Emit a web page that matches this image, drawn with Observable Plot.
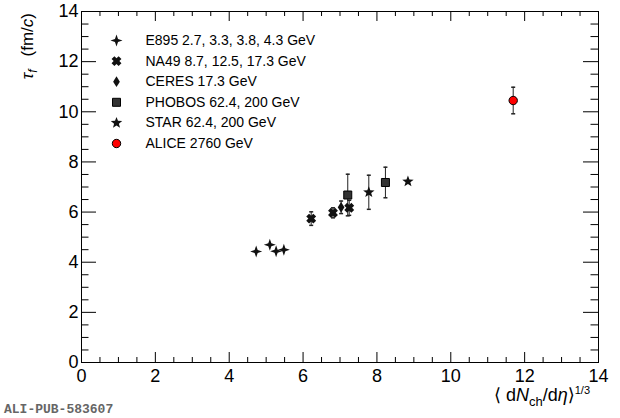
<!DOCTYPE html>
<html><head><meta charset="utf-8">
<script src="https://cdn.jsdelivr.net/npm/d3@7"></script>
<script src="https://cdn.jsdelivr.net/npm/@observablehq/plot@0.6"></script>
<style>
html,body{margin:0;padding:0;background:#fff;}
#chart{width:620px;height:418px;}
</style></head><body><div id="chart"></div>
<script>
// ---- data ----
const e895X = [4.73, 5.10, 5.27, 5.48];
const e895Y = [4.43, 4.70, 4.44, 4.50];
const e895Err = [0, 0, 0, 0];

const na49X = [6.22, 6.81, 7.25];
const na49Y = [5.74, 5.97, 6.17];
const na49Err = [0.27, 0.20, 0.30];

const ceresX = [7.03];
const ceresY = [6.19];
const ceresErr = [0.25];

const phobosX = [7.21, 8.23];
const phobosY = [6.68, 7.18];
const phobosErr = [0.83, 0.61];

const starX = [7.78, 8.84];
const starY = [6.79, 7.22];
const starErr = [0.68, 0];

const aliceX = [11.69];
const aliceY = [10.45];
const aliceErr = [0.53];

const seriesNames = ["E895", "NA49", "CERES", "PHOBOS", "STAR", "ALICE"];
const legendLabels = [
  "E895 2.7, 3.3, 3.8, 4.3 GeV",
  "NA49 8.7, 12.5, 17.3 GeV",
  "CERES 17.3 GeV",
  "PHOBOS 62.4, 200 GeV",
  "STAR 62.4, 200 GeV",
  "ALICE 2760 GeV"
];
const xMajor = [0, 2, 4, 6, 8, 10, 12, 14];
const yMajor = [0, 2, 4, 6, 8, 10, 12, 14];
const xMinor = d3.range(0, 14.01, 0.5).filter(v => v % 2 !== 0);
const yMinor = d3.range(0, 14.01, 0.5).filter(v => v % 2 !== 0);

// ---- custom marker shapes ----
const rad = s => Math.sqrt(s / Math.PI);
const poly = (ctx, pts) => { ctx.moveTo(pts[0][0], pts[0][1]); for (let i = 1; i < pts.length; i++) ctx.lineTo(pts[i][0], pts[i][1]); ctx.closePath(); };
const star4 = { draw(ctx, size) { const R = rad(size), r = R * 0.36; const p = [];
  for (let k = 0; k < 8; k++) { const a = -Math.PI / 2 + k * Math.PI / 4, q = k % 2 ? r : R; p.push([q * Math.cos(a), q * Math.sin(a)]); } poly(ctx, p); } };
const crossX = { draw(ctx, size) { const R = rad(size), w = R * 0.4; const base = [[w,R],[w,w],[R,w],[R,-w],[w,-w],[w,-R],[-w,-R],[-w,-w],[-R,-w],[-R,w],[-w,w],[-w,R]];
  const c = Math.SQRT1_2; poly(ctx, base.map(([x, y]) => [c * (x - y), c * (x + y)])); } };
const diamond = { draw(ctx, size) { const R = rad(size); poly(ctx, [[0,-R],[0.62*R,0],[0,R],[-0.62*R,0]]); } };
const square = { draw(ctx, size) { const R = rad(size); poly(ctx, [[-R,-R],[R,-R],[R,R],[-R,R]]); } };
const star5 = { draw(ctx, size) { const R = rad(size), r = R * 0.42; const p = [];
  for (let k = 0; k < 10; k++) { const a = -Math.PI / 2 + k * Math.PI / 5, q = k % 2 ? r : R; p.push([q * Math.cos(a), q * Math.sin(a)]); } poly(ctx, p); } };
const cap = { draw(ctx, size) { const R = rad(size); ctx.moveTo(-R, 0); ctx.lineTo(R, 0); } };

const styles = {
  E895:   {symbol: star4,   r: 6.0, fill: "#111", stroke: "none"},
  NA49:   {symbol: crossX,  r: 5.0, fill: "#111", stroke: "none"},
  CERES:  {symbol: diamond, r: 5.4, fill: "#111", stroke: "none"},
  PHOBOS: {symbol: square,  r: 4.0, fill: "#333", stroke: "#000"},
  STAR:   {symbol: star5,   r: 6.0, fill: "#111", stroke: "none"},
  ALICE:  {symbol: "circle",r: 4.2, fill: "#ff0000", stroke: "#000"}
};

const raw = {
  E895: [e895X, e895Y, e895Err], NA49: [na49X, na49Y, na49Err], CERES: [ceresX, ceresY, ceresErr],
  PHOBOS: [phobosX, phobosY, phobosErr], STAR: [starX, starY, starErr], ALICE: [aliceX, aliceY, aliceErr]
};
const table = seriesNames.flatMap(s => raw[s][0].map((x, i) => ({series: s, x, y: raw[s][1][i], err: raw[s][2][i]})));
const withErr = table.filter(d => d.err > 0);

// ---- layout ----
const W = 620, H = 418, mL = 81, mR = 22, mT = 11, mB = 56;
const pw = W - mL - mR, ph = H - mT - mB;
const font = "'Liberation Sans', Arial, Helvetica, sans-serif";

const marks = [
  Plot.tickY(yMajor, {y: d => d, insetRight: pw - 15, stroke: "#000"}),
  Plot.tickY(yMajor, {y: d => d, insetLeft: pw - 15, stroke: "#000"}),
  Plot.tickY(yMinor, {y: d => d, insetRight: pw - 7.5, stroke: "#000"}),
  Plot.tickY(yMinor, {y: d => d, insetLeft: pw - 7.5, stroke: "#000"}),
  Plot.tickX(xMajor, {x: d => d, insetTop: ph - 10, stroke: "#000"}),
  Plot.tickX(xMajor, {x: d => d, insetBottom: ph - 10, stroke: "#000"}),
  Plot.tickX(xMinor, {x: d => d, insetTop: ph - 5, stroke: "#000"}),
  Plot.tickX(xMinor, {x: d => d, insetBottom: ph - 5, stroke: "#000"}),
  Plot.axisX({ticks: xMajor, tickSize: 0, tickPadding: 7, fontSize: 18, label: null, fill: "#000"}),
  Plot.axisY({ticks: yMajor, tickSize: 0, tickPadding: 3, fontSize: 18, label: null, fill: "#000"}),
  Plot.ruleX(withErr, {x: "x", y1: d => d.y - d.err, y2: d => d.y + d.err, stroke: "#222", strokeWidth: 1}),
  Plot.dot(withErr, {x: "x", y: d => d.y - d.err, symbol: cap, r: 2, stroke: "#222", fill: "none"}),
  Plot.dot(withErr, {x: "x", y: d => d.y + d.err, symbol: cap, r: 2, stroke: "#222", fill: "none"}),
  ...seriesNames.map(s => Plot.dot(table.filter(d => d.series === s), {x: "x", y: "y", ...styles[s], strokeWidth: 1})),
  ...seriesNames.map((s, i) => Plot.dot([s], {frameAnchor: "top-left", dx: 35, dy: 29 + i * 20.6, ...styles[s], strokeWidth: 1})),
  ...legendLabels.map((t, i) => Plot.text([t], {frameAnchor: "top-left", dx: 64, dy: 29 + i * 20.6, text: d => d, textAnchor: "start", lineAnchor: "middle", fontSize: 14, fill: "#000"})),
  Plot.frame({stroke: "#000"})
];

const plot = Plot.plot({
  width: W, height: H, marginLeft: mL, marginRight: mR, marginTop: mT, marginBottom: mB,
  x: {domain: [0, 14]}, y: {domain: [0, 14]},
  style: {fontFamily: font, background: "#fff", color: "#000"},
  marks
});

const svg = d3.select(plot);
const xt = svg.append("text").attr("x", 590).attr("y", 401).attr("text-anchor", "end")
  .attr("font-size", 18).attr("fill", "#000").attr("font-family", "'Liberation Sans', 'DejaVu Sans', sans-serif");
xt.append("tspan").text("\u27E8 d");
xt.append("tspan").attr("font-style", "italic").text("N");
xt.append("tspan").attr("font-size", 13).attr("dy", 5).text("ch");
xt.append("tspan").attr("dy", -5).text("/d");
xt.append("tspan").attr("font-style", "italic").text("\u03B7");
xt.append("tspan").text("\u27E9");
xt.append("tspan").attr("font-size", 11).attr("dy", -7).text("1/3");

const yt = svg.append("text").attr("transform", "translate(33,13) rotate(-90)").attr("text-anchor", "end")
  .attr("font-size", 17).attr("fill", "#000").attr("font-family", "'Liberation Sans', 'DejaVu Sans', sans-serif");
yt.append("tspan").attr("font-style", "italic").text("\u03C4");
yt.append("tspan").attr("font-style", "italic").attr("font-size", 12).attr("dy", 4).text("f");
yt.append("tspan").attr("dy", -4).attr("dx", 13).text("(fm/");
yt.append("tspan").attr("font-style", "italic").text("c");
yt.append("tspan").text(")");

svg.append("text").attr("x", 4).attr("y", 413).attr("text-anchor", "start").attr("font-size", 13).attr("font-weight", "bold")
  .attr("fill", "#666").attr("font-family", "'Liberation Mono', 'DejaVu Sans Mono', monospace").text("ALI-PUB-583607");

document.getElementById("chart").appendChild(plot);
</script></body></html>
